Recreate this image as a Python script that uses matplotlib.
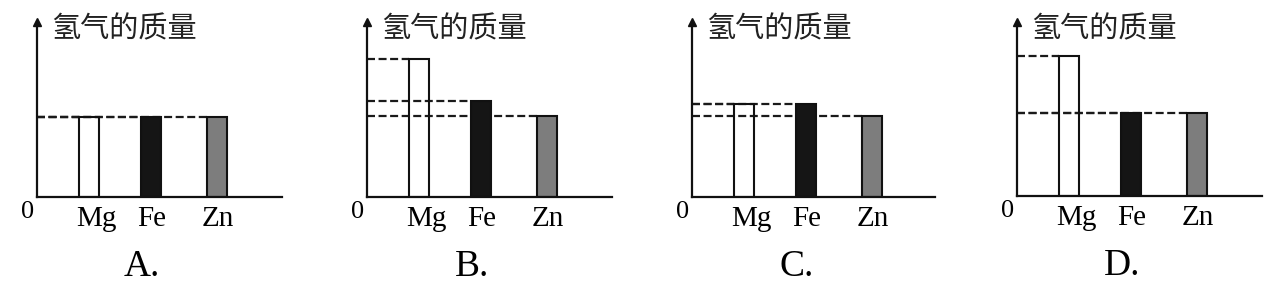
import matplotlib
matplotlib.use('Agg')
import matplotlib.pyplot as plt
from matplotlib.transforms import blended_transform_factory, offset_copy

plt.rcParams['font.family'] = ['Liberation Serif', 'DejaVu Serif']

# Data (heights, arbitrary units)
metals = ['Mg', 'Fe', 'Zn']
options = ['A.', 'B.', 'C.', 'D.']
h_a = [80, 80, 80]
h_b = [138, 96, 81]
h_c = [93, 93, 81]
h_d = [140, 83, 83]
heights = [h_a, h_b, h_c, h_d]

bar_x = [2.6, 5.7, 9.0]
bar_colors = ['none', '#151515', '#7d7d7d']
ylabel = '氢气的质量'

W, H = 1282, 284
fig = plt.figure(figsize=(W / 100, H / 100), dpi=100)

# panel boxes in pixels: left, right, x-axis y, top
boxes = [(37, 282, 197), (367, 612, 197), (692, 935, 197), (1017, 1262, 196)]
top = 22

for (l, r, b), vals, opt in zip(boxes, heights, options):
    ax = fig.add_axes([l / W, (H - b) / H, (r - l) / W, (b - top) / H])
    ax.set_xlim(0, (r - l) / 20)
    ax.set_ylim(0, b - top)
    for s in ['top', 'right']:
        ax.spines[s].set_visible(False)
    for s in ['left', 'bottom']:
        ax.spines[s].set_linewidth(1.6)
        ax.spines[s].set_color('#111111')
    ax.set_xticks([])
    ax.set_yticks([])
    ax.patch.set_alpha(0)

    # dashed guide lines from the y axis to each bar
    for x, v in zip(bar_x, vals):
        ax.plot([0, x - 0.5], [v, v], color='#1a1a1a', lw=1.6,
                dashes=(3.6, 1.6), zorder=1, solid_capstyle='butt')

    ax.bar(bar_x, vals, width=1.0, color=bar_colors, edgecolor='#111111',
           linewidth=1.5, zorder=2)

    # arrow head on y axis
    ax.plot(0, 1.0, marker='^', color='#111111', ms=5.5, transform=ax.transAxes,
            clip_on=False, zorder=3)

    trans = blended_transform_factory(ax.transData, ax.transAxes)
    for i, (x, name) in enumerate(zip(bar_x, metals)):
        dx = 7 if i == 0 else 1
        t = offset_copy(trans, fig=fig, x=dx, y=-22, units='dots')
        ax.text(x, 0, name, transform=t, ha='center', va='center', fontsize=21)
    t0 = offset_copy(ax.transAxes, fig=fig, x=-9, y=-15, units='dots')
    ax.text(0, 0, '0', transform=t0, ha='center', va='center', fontsize=19)

    tl = offset_copy(ax.transAxes, fig=fig, x=14, y=-7, units='dots')
    ax.text(0, 1, ylabel, transform=tl, ha='left', va='center', fontsize=21,
            family=['Noto Sans CJK SC', 'DejaVu Sans'], color='#222222')

    topt = offset_copy(ax.transAxes, fig=fig, x=105, y=-70, units='dots')
    ax.text(0, 0, opt, transform=topt, ha='center', va='center', fontsize=27)

fig.savefig('out.png', dpi=100, facecolor='white')
